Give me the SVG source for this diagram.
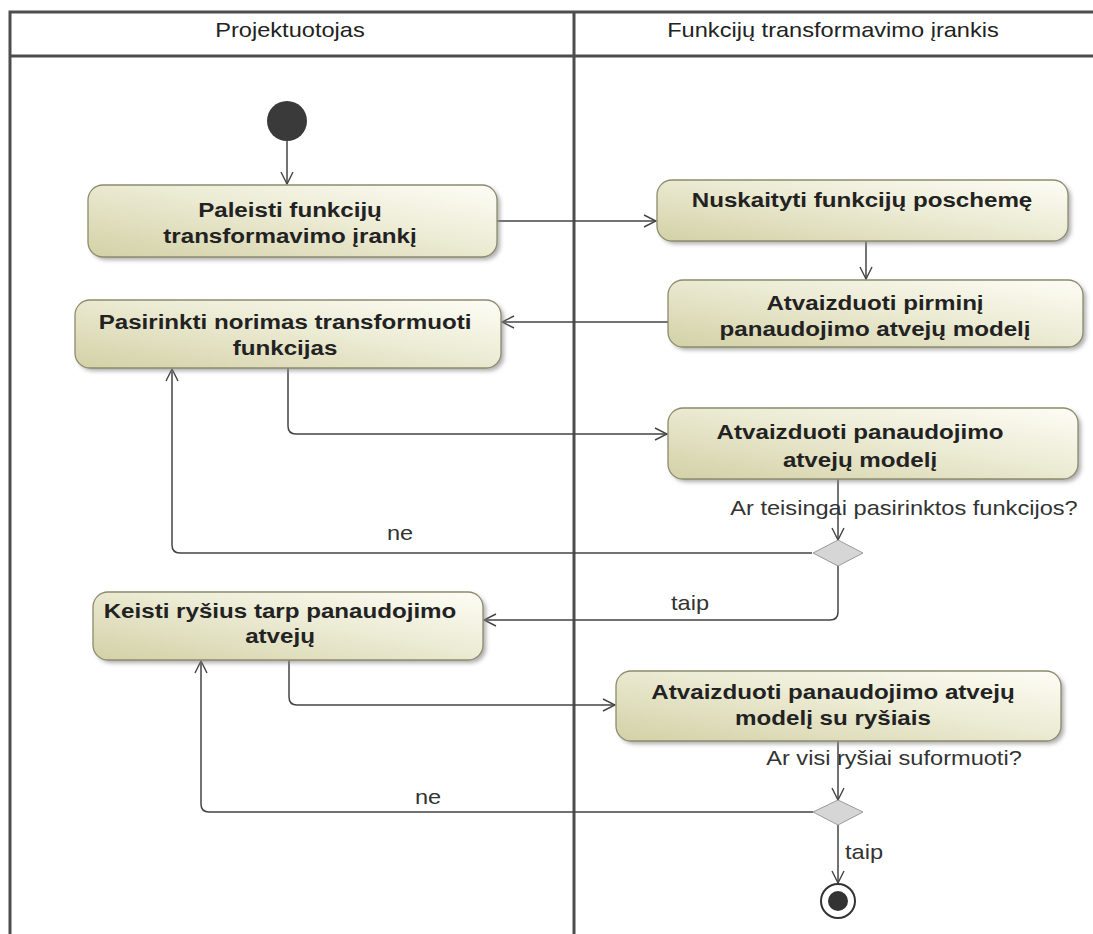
<svg xmlns="http://www.w3.org/2000/svg" width="1093" height="934" viewBox="0 0 1093 934">
  <defs>
    <linearGradient id="actFill" x1="0" y1="1" x2="1" y2="0">
      <stop offset="0" stop-color="#d3d1a6"/>
      <stop offset="0.55" stop-color="#ecebd4"/>
      <stop offset="1" stop-color="#fdfdf6"/>
    </linearGradient>
    <filter id="shadow" x="-10%" y="-20%" width="130%" height="150%">
      <feGaussianBlur stdDeviation="2"/>
    </filter>
    <marker id="open" viewBox="0 0 14 14" refX="13" refY="7" markerWidth="14" markerHeight="14" markerUnits="userSpaceOnUse" orient="auto">
      <path d="M1,1 L13,7 L1,13" fill="none" stroke="#444" stroke-width="1.4"/>
    </marker>
  </defs>
  <style>
    .lane { stroke: #4d4d4d; stroke-width: 3; fill: none; }
    .hdr { font-family: "Liberation Sans", Arial, sans-serif; font-size: 20px; fill: #222; text-anchor: middle; }
    .act rect.body { fill: url(#actFill); stroke: #8d8c6e; stroke-width: 1.3; }
    .act rect.sh { fill: #8a8a8a; opacity: 0.7; filter: url(#shadow); }
    .act text { font-family: "Liberation Sans", Arial, sans-serif; font-size: 21px; font-weight: bold; fill: #222; text-anchor: middle; }
    .flow { stroke: #444; stroke-width: 1.5; fill: none; marker-end: url(#open); }
    .lbl { font-family: "Liberation Sans", Arial, sans-serif; font-size: 20px; fill: #333; text-anchor: middle; }
    .dec { fill: #d6d6d6; stroke: #9a9a9a; stroke-width: 1; }
  </style>

  <rect width="1093" height="934" fill="#ffffff"/>

  <!-- swimlane frame -->
  <g id="lanes">
    <path class="lane" d="M10,934 V12 H1093 M10,56 H1093 M574,12 V934"/>
    <text class="hdr" transform="translate(290,37) scale(1.18,1)">Projektuotojas</text>
    <text class="hdr" transform="translate(833,37) scale(1.18,1)">Funkcijų transformavimo įrankis</text>
  </g>

  <!-- connectors -->
  <g id="connectors">
    <path class="flow" d="M287,141 V184"/>
    <path class="flow" d="M497,221 H656"/>
    <path class="flow" d="M866,241 V279"/>
    <path class="flow" d="M668,322 H502"/>
    <path class="flow" d="M288,368 V426 Q288,434 296,434 H667"/>
    <path class="flow" d="M838,479 V540"/>
    <path class="flow" d="M812,553 H180 Q172,553 172,545 V369"/>
    <path class="flow" d="M838,565 V612 Q838,620 830,620 H484"/>
    <path class="flow" d="M289,660 V697 Q289,705 297,705 H615"/>
    <path class="flow" d="M838,741 V800"/>
    <path class="flow" d="M813,812 H209 Q201,812 201,804 V661"/>
    <path class="flow" d="M838,825 V883"/>
    <text class="lbl" transform="translate(904,515) scale(1.18,1)">Ar teisingai pasirinktos funkcijos?</text>
    <text class="lbl" transform="translate(400,540) scale(1.18,1)">ne</text>
    <text class="lbl" transform="translate(690,610) scale(1.18,1)">taip</text>
    <text class="lbl" transform="translate(894,765) scale(1.18,1)">Ar visi ryšiai suformuoti?</text>
    <text class="lbl" transform="translate(428,804) scale(1.18,1)">ne</text>
    <text class="lbl" transform="translate(864,859) scale(1.18,1)">taip</text>
  </g>

  <g id="start">
    <circle cx="287" cy="121" r="20" fill="#3a3a3a"/>
  </g>

  <g id="a1" class="act">
    <rect class="sh" x="91" y="188" width="409" height="72" rx="15"/>
    <rect class="body" x="88" y="185" width="409" height="72" rx="15"/>
    <text transform="translate(290,217) scale(1.15,1)">Paleisti funkcijų</text>
    <text transform="translate(290,243) scale(1.15,1)">transformavimo įrankį</text>
  </g>

  <g id="a2" class="act">
    <rect class="sh" x="660" y="183" width="411" height="61" rx="15"/>
    <rect class="body" x="657" y="180" width="411" height="61" rx="15"/>
    <text transform="translate(862,207) scale(1.15,1)">Nuskaityti funkcijų poschemę</text>
  </g>

  <g id="a3" class="act">
    <rect class="sh" x="671" y="283" width="415" height="67" rx="15"/>
    <rect class="body" x="668" y="280" width="415" height="67" rx="15"/>
    <text transform="translate(875,310) scale(1.15,1)">Atvaizduoti pirminį</text>
    <text transform="translate(875,336) scale(1.15,1)">panaudojimo atvejų modelį</text>
  </g>

  <g id="a4" class="act">
    <rect class="sh" x="78" y="303" width="426" height="68" rx="15"/>
    <rect class="body" x="75" y="300" width="426" height="68" rx="15"/>
    <text transform="translate(285,329) scale(1.15,1)">Pasirinkti norimas transformuoti</text>
    <text transform="translate(285,355) scale(1.15,1)">funkcijas</text>
  </g>

  <g id="a5" class="act">
    <rect class="sh" x="671" y="411" width="410" height="71" rx="15"/>
    <rect class="body" x="668" y="408" width="410" height="71" rx="15"/>
    <text transform="translate(860,439) scale(1.15,1)">Atvaizduoti panaudojimo</text>
    <text transform="translate(860,467) scale(1.15,1)">atvejų modelį</text>
  </g>

  <g id="d1">
    <polygon class="dec" points="838,540 863,553 838,566 813,553"/>
  </g>

  <g id="a6" class="act">
    <rect class="sh" x="96" y="595" width="390" height="68" rx="15"/>
    <rect class="body" x="93" y="592" width="390" height="68" rx="15"/>
    <text transform="translate(280,618) scale(1.15,1)">Keisti ryšius tarp panaudojimo</text>
    <text transform="translate(280,643) scale(1.15,1)">atvejų</text>
  </g>

  <g id="a7" class="act">
    <rect class="sh" x="619" y="674" width="445" height="70" rx="15"/>
    <rect class="body" x="616" y="671" width="445" height="70" rx="15"/>
    <text transform="translate(833,699) scale(1.15,1)">Atvaizduoti panaudojimo atvejų</text>
    <text transform="translate(833,725) scale(1.15,1)">modelį su ryšiais</text>
  </g>

  <g id="d2">
    <polygon class="dec" points="838,800 863,812 838,825 813,812"/>
  </g>

  <g id="end">
    <circle cx="838" cy="901" r="17" fill="#ffffff" stroke="#333" stroke-width="2"/>
    <circle cx="838" cy="901" r="10" fill="#333"/>
  </g>
</svg>
